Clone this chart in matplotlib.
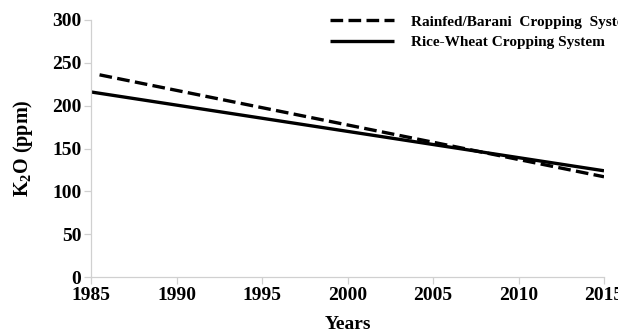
import matplotlib
matplotlib.use("Agg")
import matplotlib.pyplot as plt

# Data (trend lines)
rainfed_years = [1985.5, 2015]
rainfed_k2o = [236, 117]
ricewheat_years = [1985, 2015]
ricewheat_k2o = [216, 124]
xticks = [1985, 1990, 1995, 2000, 2005, 2010, 2015]
yticks = [0, 50, 100, 150, 200, 250, 300]

plt.rcParams['font.family'] = ['Liberation Serif', 'DejaVu Serif']
plt.rcParams['font.weight'] = 'bold'
plt.rcParams['mathtext.fontset'] = 'custom'
plt.rcParams['mathtext.rm'] = 'Liberation Serif:bold'
plt.rcParams['mathtext.bf'] = 'Liberation Serif:bold'
plt.rcParams['mathtext.it'] = 'Liberation Serif:bold'

fig = plt.figure(figsize=(6.18, 3.33), dpi=100)
ax = fig.add_axes([91/618, 1-277/333, (604-91)/618, (277-20)/333])

ax.plot(rainfed_years, rainfed_k2o, color='black', lw=2.4, dashes=(3.8, 1.6),
        label='Rainfed/Barani  Cropping  System', solid_capstyle='butt')
ax.plot(ricewheat_years, ricewheat_k2o, color='black', lw=2.4,
        label='Rice-Wheat Cropping System', solid_capstyle='butt')

ax.set_xlim(1985, 2015)
ax.set_ylim(0, 300)
ax.set_xticks(xticks)
ax.set_yticks(yticks)
for s in ['top', 'right']:
    ax.spines[s].set_visible(False)
for s in ['left', 'bottom']:
    ax.spines[s].set_color('#d0d0d0')
    ax.spines[s].set_linewidth(0.9)
ax.tick_params(axis='both', direction='out', color='#d0d0d0', length=5, width=0.9,
               labelsize=14, pad=2)
for lab in ax.get_xticklabels() + ax.get_yticklabels():
    lab.set_fontweight('bold')
ax.set_xlabel('Years', fontsize=14, fontweight='bold', labelpad=9)
ax.set_ylabel(r'K$_\mathrm{2}$O (ppm)', fontsize=14.5, fontweight='bold', labelpad=12)

leg = fig.legend(loc='upper left', bbox_to_anchor=(324/618, 1-9/333), frameon=False,
                 prop={'size': 11, 'weight': 'bold'}, handlelength=4.2,
                 handletextpad=1.1, labelspacing=0.45, borderaxespad=0.0)

fig.savefig('out.png', dpi=100)
